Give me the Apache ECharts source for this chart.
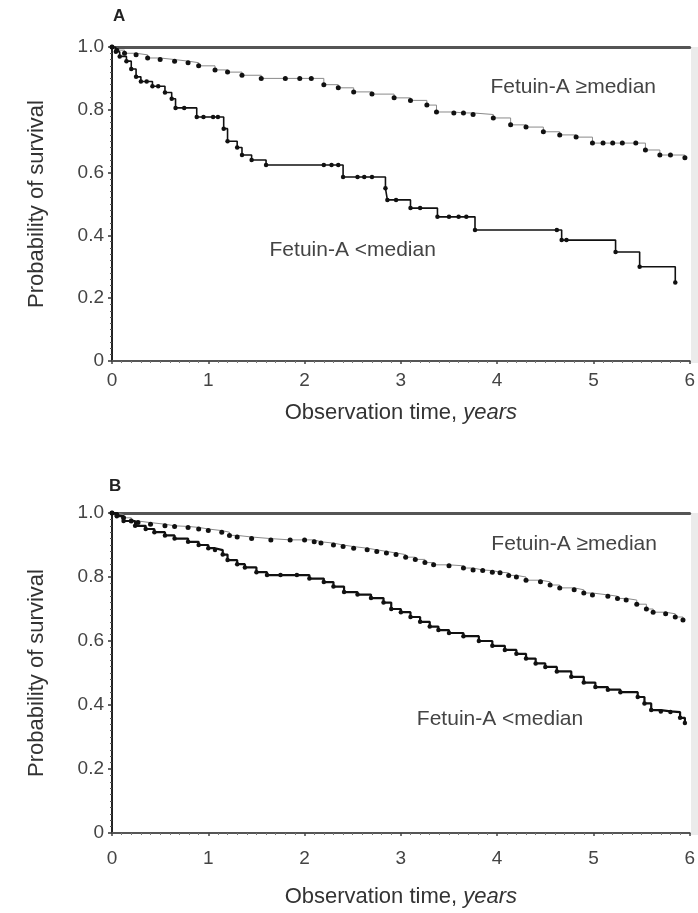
<!DOCTYPE html>
<html>
<head>
<meta charset="utf-8">
<script src="https://cdn.jsdelivr.net/npm/echarts@6/dist/echarts.min.js"></script>
<style>html,body{margin:0;padding:0;background:#fff}#c{width:698px;height:913px}</style>
</head>
<body>
<div id="c"></div>
<script>
// ---- Data (time in years, survival probability) ----
const xTickLabels = ['0','1','2','3','4','5','6'];
const yTickLabels = ['0','0.2','0.4','0.6','0.8','1.0'];
const panelTitles = ['A','B'];
const seriesNames = ['Fetuin-A \u2265median','Fetuin-A <median'];

const aHigh = [[0,1],[0.05,0.99],[0.13,0.98],[0.25,0.975],[0.37,0.965],[0.5,0.96],[0.65,0.955],[0.79,0.95],[0.9,0.94],[1.07,0.927],[1.2,0.92],[1.35,0.91],[1.55,0.90],[1.8,0.90],[1.95,0.90],[2.07,0.90],[2.2,0.88],[2.35,0.87],[2.51,0.857],[2.7,0.85],[2.93,0.838],[3.1,0.83],[3.27,0.815],[3.37,0.793],[3.55,0.79],[3.65,0.79],[3.75,0.785],[3.96,0.774],[4.14,0.752],[4.3,0.745],[4.48,0.73],[4.65,0.72],[4.82,0.713],[4.99,0.694],[5.1,0.694],[5.2,0.694],[5.3,0.694],[5.44,0.694],[5.54,0.672],[5.69,0.656],[5.8,0.656],[5.95,0.647]];
const aLow = [[0,1],[0.04,0.985],[0.08,0.97],[0.15,0.955],[0.2,0.93],[0.25,0.905],[0.3,0.89],[0.36,0.89],[0.42,0.875],[0.48,0.875],[0.55,0.855],[0.62,0.835],[0.66,0.806],[0.75,0.806],[0.88,0.777],[0.95,0.777],[1.05,0.777],[1.1,0.777],[1.16,0.74],[1.2,0.70],[1.3,0.68],[1.35,0.656],[1.45,0.64],[1.6,0.624],[2.2,0.624],[2.28,0.624],[2.35,0.624],[2.4,0.586],[2.55,0.586],[2.62,0.586],[2.7,0.586],[2.84,0.55],[2.86,0.513],[2.95,0.513],[3.1,0.487],[3.2,0.487],[3.38,0.459],[3.5,0.459],[3.6,0.459],[3.68,0.459],[3.77,0.417],[4.62,0.417],[4.67,0.385],[4.72,0.385],[5.23,0.347],[5.48,0.30],[5.85,0.25]];
const bHigh = [[0,1],[0.05,0.995],[0.12,0.985],[0.2,0.975],[0.27,0.97],[0.4,0.965],[0.55,0.96],[0.65,0.958],[0.79,0.955],[0.9,0.95],[1.0,0.945],[1.14,0.94],[1.22,0.93],[1.3,0.925],[1.45,0.92],[1.65,0.916],[1.85,0.916],[2.0,0.916],[2.1,0.91],[2.17,0.906],[2.3,0.9],[2.4,0.895],[2.51,0.89],[2.65,0.885],[2.75,0.88],[2.85,0.875],[2.95,0.87],[3.05,0.862],[3.15,0.855],[3.25,0.845],[3.34,0.838],[3.5,0.835],[3.65,0.828],[3.75,0.822],[3.85,0.82],[3.95,0.815],[4.03,0.813],[4.12,0.805],[4.2,0.8],[4.3,0.79],[4.45,0.785],[4.55,0.775],[4.65,0.766],[4.8,0.76],[4.9,0.75],[4.99,0.744],[5.15,0.74],[5.25,0.733],[5.34,0.728],[5.45,0.715],[5.55,0.7],[5.62,0.69],[5.75,0.685],[5.85,0.675],[5.93,0.666]];
const bLow = [[0,1],[0.05,0.99],[0.12,0.975],[0.24,0.96],[0.35,0.95],[0.44,0.94],[0.55,0.93],[0.65,0.92],[0.79,0.91],[0.9,0.9],[1.0,0.89],[1.07,0.884],[1.15,0.87],[1.2,0.853],[1.3,0.84],[1.38,0.83],[1.5,0.815],[1.61,0.806],[1.75,0.806],[1.92,0.806],[2.05,0.795],[2.2,0.784],[2.3,0.77],[2.41,0.753],[2.55,0.745],[2.69,0.734],[2.82,0.72],[2.9,0.7],[3.0,0.69],[3.1,0.675],[3.2,0.66],[3.3,0.645],[3.39,0.634],[3.5,0.625],[3.65,0.615],[3.81,0.60],[3.95,0.585],[4.08,0.572],[4.2,0.56],[4.3,0.545],[4.4,0.53],[4.5,0.519],[4.62,0.505],[4.77,0.488],[4.9,0.47],[5.02,0.456],[5.15,0.448],[5.28,0.44],[5.46,0.425],[5.53,0.405],[5.6,0.384],[5.7,0.38],[5.8,0.378],[5.9,0.36],[5.95,0.344]];

// annotation anchors in data units [x, y]
const labelPos = {aHigh:[4.79,0.873], aLow:[2.5,0.353], bHigh:[4.8,0.903], bLow:[4.03,0.356]};

const FONT = 'Liberation Sans, Arial, sans-serif';
const chart = echarts.init(document.getElementById('c'), null, {renderer:'canvas'});

function xAxisFor(gi, margin, nameGap){
  return {
    type:'value', gridIndex:gi, min:0, max:6, interval:1,
    axisLine:{show:true, lineStyle:{color:'#555', width:2}},
    axisTick:{show:true, length:3, lineStyle:{color:'#444', width:1.5}},
    minorTick:{show:true, splitNumber:10, length:2, lineStyle:{color:'#777'}},
    splitLine:{show:false},
    axisLabel:{color:'#444', fontSize:19, fontFamily:FONT, margin:margin,
      formatter:(v)=>xTickLabels[Math.round(v)]},
    name:'{n|Observation time, }{i|years}', nameLocation:'middle', nameGap:nameGap,
    nameTextStyle:{rich:{n:{fontSize:22, color:'#333', fontFamily:FONT}, i:{fontSize:22, color:'#333', fontStyle:'italic', fontFamily:FONT}}}
  };
}
function topAxisFor(gi){
  return {type:'value', gridIndex:gi, position:'top', min:0, max:6,
    axisLine:{show:true, lineStyle:{color:'#555', width:3}},
    axisTick:{show:false}, axisLabel:{show:false}, splitLine:{show:false}};
}
function yAxisFor(gi){
  return {
    type:'value', gridIndex:gi, min:0, max:1, interval:0.2,
    axisLine:{show:true, lineStyle:{color:'#222', width:2}},
    axisTick:{show:true, length:4, lineStyle:{color:'#333', width:1.5}},
    minorTick:{show:true, splitNumber:10, length:2, lineStyle:{color:'#555'}},
    splitLine:{show:false},
    axisLabel:{color:'#444', fontSize:19, fontFamily:FONT, margin:8,
      formatter:(v)=>yTickLabels[Math.round(v*5)]},
    name:'Probability of survival', nameLocation:'middle', nameGap:64, nameRotate:90,
    nameTextStyle:{fontSize:22, color:'#333', fontFamily:FONT}
  };
}
function curve(name, data, xi, yi, kind, lab){
  const high = kind==='high';
  return {
    type:'line', name:name, xAxisIndex:xi, yAxisIndex:yi, step:'end', data:data,
    showSymbol:true, symbol:'circle', symbolSize: high ? 5 : 4.5,
    itemStyle:{color:'#111'},
    lineStyle:{color: high ? '#8a8a8a' : '#111', width: high ? 1 : (xi===0?1.6:2.2)},
    animation:false, z: high?3:4,
    markPoint:{symbol:'circle', symbolSize:0, silent:true,
      label:{show:true, position:'inside', formatter:name, color:'#444', fontSize:21, fontFamily:FONT},
      data:[{coord:lab}]}
  };
}

const option = {
  backgroundColor:'#fff',
  animation:false,
  title:[
    {text:panelTitles[0], left:108, top:3, textStyle:{fontSize:17, fontWeight:'bold', color:'#222', fontFamily:FONT}},
    {text:panelTitles[1], left:104, top:473, textStyle:{fontSize:17, fontWeight:'bold', color:'#222', fontFamily:FONT}}
  ],
  grid:[
    {left:112, top:47, width:580, height:314},
    {left:112, top:513, width:580, height:320}
  ],
  xAxis:[xAxisFor(0, 10, 41), xAxisFor(1, 16, 53), topAxisFor(0), topAxisFor(1)],
  yAxis:[yAxisFor(0), yAxisFor(1)],
  graphic:[
    {type:'rect', left:691, top:47, shape:{width:7, height:316}, style:{fill:'#ebebeb'}, z:-1},
    {type:'rect', left:691, top:513, shape:{width:7, height:322}, style:{fill:'#ebebeb'}, z:-1}
  ],
  series:[
    curve(seriesNames[0], aHigh, 0, 0, 'high', labelPos.aHigh),
    curve(seriesNames[1], aLow, 0, 0, 'low', labelPos.aLow),
    curve(seriesNames[0], bHigh, 1, 1, 'high', labelPos.bHigh),
    curve(seriesNames[1], bLow, 1, 1, 'low', labelPos.bLow)
  ]
};
chart.setOption(option);
</script>
</body>
</html>
